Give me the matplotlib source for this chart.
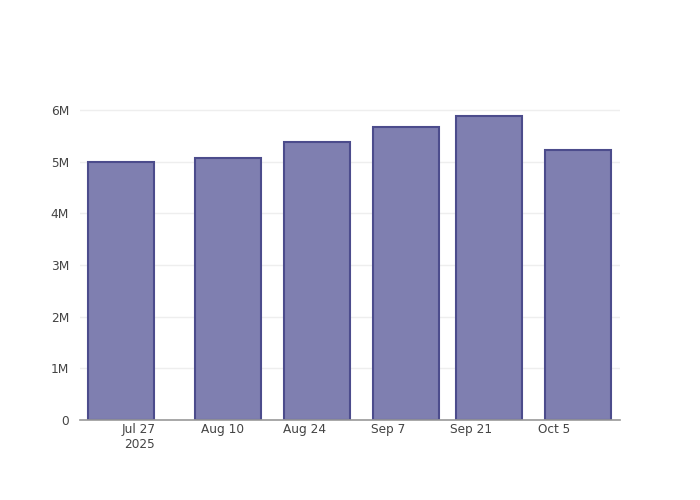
import matplotlib.pyplot as plt
import pandas as pd

# 数据
dates = pd.to_datetime(['2025-07-24', '2025-08-11', '2025-08-26',
                        '2025-09-10', '2025-09-24', '2025-10-09'])
values = [5.00e6, 5.07e6, 5.37e6, 5.67e6, 5.88e6, 5.23e6]

tick_dates = pd.to_datetime(['2025-07-27', '2025-08-10', '2025-08-24',
                             '2025-09-07', '2025-09-21', '2025-10-05'])
tick_labels = ['Jul 27\n2025', 'Aug 10', 'Aug 24', 'Sep 7', 'Sep 21', 'Oct 5']
y_ticks = [0, 1e6, 2e6, 3e6, 4e6, 5e6, 6e6]
y_labels = ['0', '1M', '2M', '3M', '4M', '5M', '6M']

plt.rcParams['font.family'] = ['DejaVu Sans']

fig = plt.figure(figsize=(7, 5), dpi=100)
ax = fig.add_axes([80 / 700, 80 / 500, 540 / 700, 320 / 500])

bar_width = 11.2  # 天
ax.bar(dates, values, width=bar_width, color='#7f7fb0',
       edgecolor='#4c4c8c', linewidth=1.5, zorder=3)

ax.set_xlim(pd.Timestamp('2025-07-17 01:00'), pd.Timestamp('2025-10-16 03:00'))
ax.set_ylim(0, 6.19e6)

ax.set_xticks(tick_dates)
ax.set_xticklabels(tick_labels)
ax.set_yticks(y_ticks)
ax.set_yticklabels(y_labels)

ax.tick_params(axis='x', length=0, pad=2, labelsize=8.7, colors='#444444')
ax.tick_params(axis='y', length=0, pad=8, labelsize=8.7, colors='#444444')

ax.grid(axis='y', color='#eeeeee', linewidth=1, zorder=0)
for side in ['top', 'right', 'left']:
    ax.spines[side].set_visible(False)
ax.spines['bottom'].set_color('#999999')
ax.spines['bottom'].set_linewidth(1.2)
ax.spines['bottom'].set_zorder(4)

fig.savefig('out.png', dpi=100)
